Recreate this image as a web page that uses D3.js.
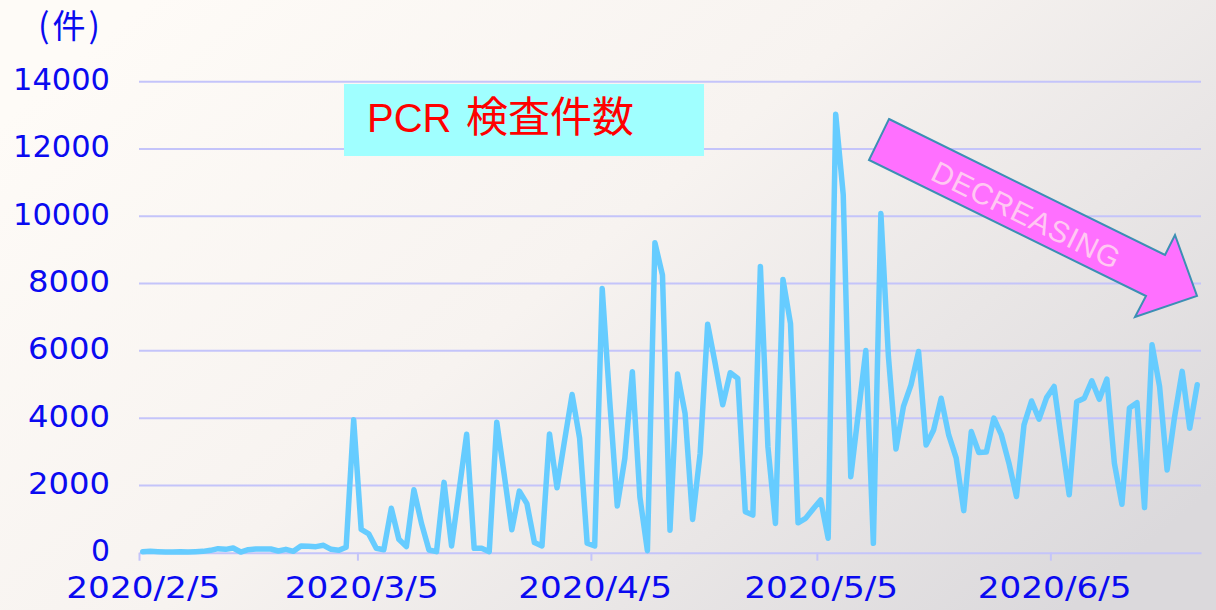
<!DOCTYPE html>
<html lang="ja">

<head>
  <meta charset="UTF-8">
  <title>PCR 検査件数</title>
  <style>
    html, body { margin: 0; padding: 0; }
  </style>
</head>

<body>
  <svg id="svg" width="1216" height="610"></svg>

  <script src="https://d3js.org/d3.v7.min.js"></script>
  <script>
    // daily PCR test counts, one value per day starting 2020/2/5
    const startDate = '2020-02-05'
    const counts = [
      30, 40, 30, 20, 20, 30, 20, 30, 40, 70,
      120, 100, 140, 20, 90, 110, 110, 110, 50, 100,
      40, 200, 190, 180, 220, 100, 70, 160, 3950, 690,
      560, 130, 90, 1320, 400, 180, 1870, 875, 80, 30,
      2090, 200, 1850, 3520, 130, 130, 30, 3880, 2300, 680,
      1830, 1460, 300, 200, 3530, 1930, 3330, 4700, 3400, 280,
      200, 7850, 4500, 1390, 2800, 5380, 1660, 60, 9210, 8250,
      670, 5310, 4140, 990, 2950, 6790, 5620, 4400, 5350, 5180,
      1220, 1120, 8510, 3150, 870, 8120, 6810, 890, 1020, 1300,
      1570, 430, 13030, 10640, 2260, 4140, 6010, 280, 10080, 5830,
      3080, 4350, 4990, 5980, 3200, 3650, 4590, 3500, 2810, 1250,
      3600, 2980, 2990, 4000, 3500, 2660, 1670, 3800, 4510, 3970,
      4610, 4940, 3300, 1720, 4490, 4590, 5110, 4560, 5160, 2660,
      1440, 4300, 4460, 1340, 6180, 4940, 2460, 4050, 5390, 3700,
      4990
    ]
    const xTickDates = ['2020-02-05', '2020-03-05', '2020-04-05', '2020-05-05', '2020-06-05']
    const yTicks = [0, 2000, 4000, 6000, 8000, 10000, 12000, 14000]
    const unitLabel = ['(', '件', ')']
    const titleLatin = 'PCR'
    const titleKanji = '検査件数'
    const arrowLabel = 'DECREASING'

    const parse = d3.utcParse('%Y-%m-%d')
    const day0 = parse(startDate)
    const data = counts.map((v, i) => ({ date: d3.utcDay.offset(day0, i), value: v }))

    const svg = d3.select('#svg')

    // background
    const defs = svg.append('defs')
    const grad = defs.append('linearGradient')
      .attr('id', 'bg')
      .attr('x1', 0).attr('y1', 0.2)
      .attr('x2', 1).attr('y2', 0.8)
    grad.append('stop').attr('offset', 0).attr('stop-color', '#fefbf7')
    grad.append('stop').attr('offset', 0.45).attr('stop-color', '#f7f3f0')
    grad.append('stop').attr('offset', 1).attr('stop-color', '#dbd9dc')
    svg.append('rect').attr('width', 1216).attr('height', 610).attr('fill', 'url(#bg)')

    const xScale = d3.scaleUtc()
      .domain([day0, d3.utcDay.offset(day0, counts.length)])
      .range([139, 1201])

    const yScale = d3.scaleLinear()
      .domain([0, 14000])
      .range([552.7, 81.7])

    const gridColor = '#c4c4fa'
    const blue = '#0a0af0'

    // horizontal gridlines
    svg.append('g')
      .selectAll('line')
      .data(yTicks.slice(1))
      .enter()
      .append('line')
      .attr('x1', xScale.range()[0])
      .attr('x2', xScale.range()[1])
      .attr('y1', d => yScale(d))
      .attr('y2', d => yScale(d))
      .attr('stroke', gridColor)
      .attr('stroke-width', 2)

    // y labels (wide, round digits -> stretch a bit)
    const labelWidth = s => s.length === 1 ? 19 : s.length === 4 ? 82 : 97
    svg.append('g')
      .selectAll('text')
      .data(yTicks)
      .enter()
      .append('text')
      .attr('x', 110)
      .attr('y', d => yScale(d) + 8.5)
      .attr('text-anchor', 'end')
      .attr('font-family', 'DejaVu Sans')
      .attr('font-size', 30)
      .attr('textLength', d => labelWidth(String(d)))
      .attr('lengthAdjust', 'spacingAndGlyphs')
      .attr('fill', blue)
      .text(d => d)

    const unit = svg.append('text')
      .attr('x', 38)
      .attr('y', 38)
      .attr('font-family', 'Noto Sans CJK JP')
      .attr('fill', blue)
    unit.selectAll('tspan')
      .data(unitLabel)
      .enter()
      .append('tspan')
      .attr('font-size', (d, i) => i === 1 ? 33 : 34)
      .attr('dx', (d, i) => i === 0 ? 0 : 3)
      .text(d => d)

    // x axis
    const halfDay = (xScale(d3.utcDay.offset(day0, 1)) - xScale(day0)) / 2
    const xAxis = d3.axisBottom(xScale)
      .tickValues(xTickDates.map(parse))
      .tickSize(8)
      .tickSizeOuter(0)
      .tickFormat(d3.utcFormat('%Y/%-m/%-d'))

    const gx = svg.append('g')
      .attr('transform', `translate(0,${yScale(0)})`)
      .call(xAxis)
    gx.select('.domain').attr('stroke', gridColor).attr('stroke-width', 2)
    gx.selectAll('.tick line').attr('stroke', gridColor).attr('stroke-width', 2)
    gx.selectAll('.tick text')
      .attr('x', halfDay)
      .attr('y', 45.6)
      .attr('dy', 0)
      .attr('font-family', 'DejaVu Sans')
      .attr('font-size', 30)
      .attr('textLength', 154)
      .attr('lengthAdjust', 'spacingAndGlyphs')
      .attr('fill', blue)

    // title box
    svg.append('rect')
      .attr('x', 344).attr('y', 84)
      .attr('width', 360).attr('height', 72)
      .attr('fill', '#a0ffff')
    const title = svg.append('text')
      .attr('y', 132)
      .attr('fill', '#ff0000')
    title.append('tspan')
      .attr('x', 367)
      .attr('font-family', 'Liberation Sans')
      .attr('font-size', 40)
      .text(titleLatin)
    title.append('tspan')
      .attr('x', 466)
      .attr('font-family', 'Noto Sans CJK JP')
      .attr('font-size', 42)
      .text(titleKanji)

    // data line
    const line = d3.line()
      .x(d => xScale(d.date) + halfDay)
      .y(d => yScale(d.value))

    svg.append('path')
      .datum(data)
      .attr('d', line)
      .attr('fill', 'none')
      .attr('stroke', '#66ccff')
      .attr('stroke-width', 5.5)
      .attr('stroke-linejoin', 'round')
      .attr('stroke-linecap', 'round')

    // decreasing arrow
    const arrow = [[889, 119], [1165, 255], [1175, 235], [1197, 296], [1135, 317], [1146, 296], [869, 160]]
    svg.append('polygon')
      .attr('points', arrow.map(p => p.join(',')).join(' '))
      .attr('fill', '#ff70ff')
      .attr('stroke', '#3c8fb4')
      .attr('stroke-width', 2)
      .attr('stroke-linejoin', 'miter')

    svg.append('text')
      .attr('transform', 'translate(1026,215) rotate(26.2)')
      .attr('text-anchor', 'middle')
      .attr('dominant-baseline', 'central')
      .attr('font-family', 'Liberation Sans')
      .attr('font-size', 30)
      .attr('textLength', 206)
      .attr('lengthAdjust', 'spacing')
      .attr('fill', '#ffc8f2')
      .text(arrowLabel)
  </script>
</body>

</html>
